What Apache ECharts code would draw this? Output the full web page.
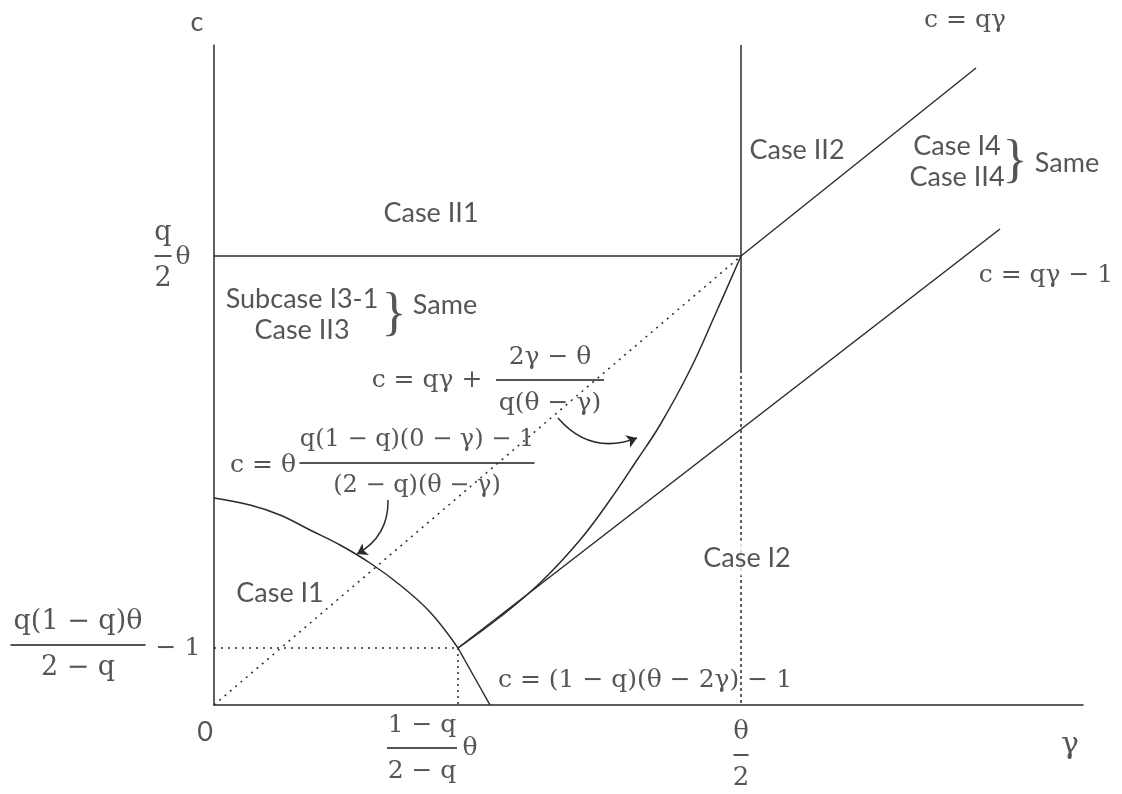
<!DOCTYPE html>
<html>
<head>
<meta charset="utf-8">
<title>Case regions in (γ, c)</title>
<script src="https://cdn.jsdelivr.net/npm/echarts@6/dist/echarts.min.js"></script>
<style>
html, body { margin: 0; padding: 0; background: #fff; }
#main { width: 1122px; height: 794px; }
</style>
</head>
<body>
<div id="main"></div>
<script>
/* diagram units: γ to the right, c upward. θ/2 sits at 527, q·θ/2 at 449 */
var xMax = 869, yMax = 660;

// boundary lines and curves
var lineQDotted  = [[0, 0], [527, 449]];             // c = qγ below θ/2
var lineQ        = [[527, 449], [762, 637]];         // c = qγ
var lineQMinus1  = [[244, 57], [786, 476]];          // c = qγ - 1
var lineDown     = [[244, 57], [276, 0]];            // c = (1-q)(θ-2γ) - 1
var arcTheta     = [[0, 207], [36, 200], [66, 190], [96, 175], [126, 160], [156, 142], [186, 120], [216, 93], [244, 57]];
var curveQ       = [[244, 57], [286, 88], [326, 122], [366, 165], [396, 205], [423, 245], [446, 280], [476, 335], [501, 390], [527, 449]];
var halfThetaTop = [[527, 660], [527, 335]];
var halfThetaLow = [[527, 335], [527, 0]];
var qThetaLine   = [[0, 449], [527, 449]];
var guideH       = [[0, 57], [244, 57]];
var guideV       = [[244, 57], [244, 0]];

// curved pointers: [from, to]
var pointers = [
	[[344, 287], [423, 267]],
	[[174, 205], [143, 151]]
];
var pointerBend = [-0.35, 0.3];

// text: [text, x, y]
var caseLabels = [
	['Case II1', 217, 492],
	['Subcase I3-1\nCase II3', 88, 390],
	['Case II2', 583, 555],
	['Case I4\nCase II4', 743, 543],
	['Case I1', 66, 112],
	['Same', 231, 400],
	['Same', 853, 542],
	['c', -17, 683],
	['0', -9, -27]
];
var boxedLabels = [['Case I2', 533, 147]];
var braces = [[180, 390], [801, 543]];
var mathLabels = [
	['c = qγ', 751, 685],
	['c = qγ − 1', 832, 430],
	['c = (1 − q)(θ − 2γ) − 1', 431, 25],
	['c = qγ +', 213, 325],
	['c = θ', 49, 240],
	['− 1', -36, 57],
	['θ', -31, 448],
	['θ', 256, -43]
];
var axisName = ['γ', 856, -40];
// fractions: [numerator, denominator, x, y]
var fractions = [
	['2γ − θ', 'q(θ − γ)', 336, 325],
	['q(1 − q)(0 − γ) − 1', '(2 − q)(θ − γ)', 203, 242],
	['q(1 − q)θ', '2 − q', -136, 60],
	['q', '2', -51, 449],
	['1 − q', '2 − q', 208, -43],
	['θ', '2', 527, -50]
];
// [bar width, font size] for each fraction
var fracLook = [[108, 25], [235, 24], [135, 27], [17, 27], [70, 25], [15, 26]];

var ink = '#2b2b2b';
var mathFont = 'DejaVu Serif';
var caseFont = 'Lato';

function seg(data, type, smooth) {
	return {
		type: 'line', data: data, symbol: 'none', silent: true, animation: false,
		smooth: smooth || false, z: 2,
		lineStyle: { color: ink, width: 1.5, type: type }
	};
}

var textItems = [];
caseLabels.forEach(function (d) {
	textItems.push({
		value: [d[1], d[2]],
		label: { formatter: d[0], fontFamily: caseFont, fontSize: 27, lineHeight: 31, color: ink }
	});
});
boxedLabels.forEach(function (d) {
	textItems.push({
		value: [d[1], d[2]],
		label: { formatter: d[0], fontFamily: caseFont, fontSize: 27, color: ink, backgroundColor: '#fff', padding: [4, 2] }
	});
});
braces.forEach(function (d) {
	textItems.push({
		value: d,
		label: { formatter: '}', fontFamily: 'Liberation Serif', fontSize: 52, color: ink }
	});
});
mathLabels.forEach(function (d) {
	textItems.push({
		value: [d[1], d[2]],
		label: { formatter: d[0], fontFamily: mathFont, fontSize: 25, color: ink }
	});
});
textItems.push({
	value: [axisName[1], axisName[2]],
	label: { formatter: axisName[0], fontFamily: mathFont, fontSize: 30, color: ink }
});
fractions.forEach(function (d, i) {
	textItems.push({
		value: [d[2], d[3]],
		label: {
			formatter: '{n|' + d[0] + '}\n{b| }\n{n|' + d[1] + '}',
			rich: {
				n: { fontFamily: mathFont, fontSize: fracLook[i][1], lineHeight: 32, color: ink, align: 'center' },
				b: { width: fracLook[i][0], height: 2, lineHeight: 14, backgroundColor: ink, align: 'center', fontSize: 1 }
			}
		}
	});
});

var myChart = echarts.init(document.getElementById('main'));
var option = {
	backgroundColor: '#fff',
	animation: false,
	grid: { left: 214, right: 39, top: 45, bottom: 89 },
	xAxis: {
		type: 'value', min: 0, max: xMax,
		axisLine: { show: true, lineStyle: { color: ink, width: 1.5 } },
		axisTick: { show: false }, axisLabel: { show: false }, splitLine: { show: false }
	},
	yAxis: {
		type: 'value', min: 0, max: yMax,
		axisLine: { show: true, lineStyle: { color: ink, width: 1.5 } },
		axisTick: { show: false }, axisLabel: { show: false }, splitLine: { show: false }
	},
	series: [
		seg(lineQDotted, [2, 5]),
		seg(lineQ, 'solid'),
		seg(lineQMinus1, 'solid'),
		seg(lineDown, 'solid'),
		seg(arcTheta, 'solid', 0.4),
		seg(curveQ, 'solid', 0.4),
		seg(halfThetaTop, 'solid'),
		seg(halfThetaLow, [3, 3]),
		seg(qThetaLine, 'solid'),
		seg(guideH, [2, 5]),
		seg(guideV, [2, 4]),
		{
			type: 'lines', coordinateSystem: 'cartesian2d', silent: true, animation: false,
			symbol: ['none', 'arrow'], symbolSize: 10, z: 3,
			data: pointers.map(function (p, i) {
				return { coords: p, lineStyle: { curveness: pointerBend[i] } };
			}),
			lineStyle: { color: ink, width: 1.5, opacity: 1 }
		},
		{
			type: 'scatter', symbolSize: 0, silent: true, clip: false, animation: false,
			z: 10, zlevel: 1,
			label: { show: true, position: 'inside' },
			data: textItems
		}
	]
};
myChart.setOption(option);
</script>
</body>
</html>
